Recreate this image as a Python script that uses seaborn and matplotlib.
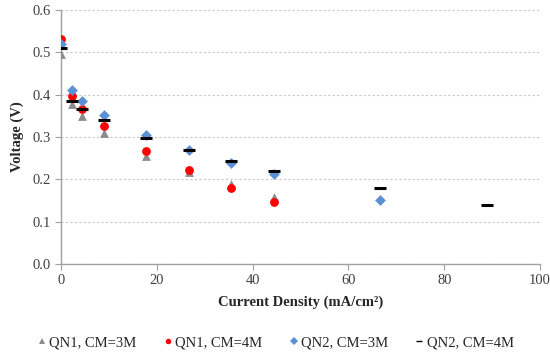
import pandas as pd
import seaborn as sns
import matplotlib
matplotlib.use('Agg')
import matplotlib.pyplot as plt
from matplotlib.lines import Line2D

# Dados
corrente = [0, 2.22, 4.44, 8.89, 17.78, 26.67, 35.56, 44.44, 66.67, 88.89]

qn1_3m = [0.496, 0.378, 0.350, 0.309, 0.255, 0.216, 0.188, 0.157]
qn1_4m = [0.532, 0.397, 0.366, 0.325, 0.267, 0.221, 0.179, 0.145]
qn2_3m = [0.520, 0.411, 0.384, 0.352, 0.305, 0.268, 0.239, 0.212, 0.152]
qn2_4m = [0.510, 0.386, 0.366, 0.339, 0.298, 0.268, 0.244, 0.220, 0.179, 0.139]

series = [
    ('QN1, CM=3M', qn1_3m, '^', '#8c8c8c'),
    ('QN1, CM=4M', qn1_4m, 'o', '#ff0000'),
    ('QN2, CM=3M', qn2_3m, 'D', '#5b8fd6'),
    ('QN2, CM=4M', qn2_4m, '_', '#000000'),
]

sns.set_style('white')
plt.rcParams['font.family'] = ['Liberation Serif', 'DejaVu Serif']

fig, ax = plt.subplots(figsize=(5.5, 3.57), dpi=100)
fig.subplots_adjust(left=0.111, right=0.982, top=0.972, bottom=0.261)

handles = []
for nome, valores, marcador, cor in series:
    df = pd.DataFrame({'x': corrente[:len(valores)], 'y': valores})
    if marcador == '_':
        sns.scatterplot(data=df, x='x', y='y', ax=ax, marker='_', color=cor,
                        s=80, linewidth=2.2, zorder=3)
        handles.append(Line2D([], [], linestyle='none', marker='_', color=cor,
                              markersize=5, markeredgewidth=1.0, label=nome))
    else:
        tam = 30 if marcador == 'D' else 40
        sns.scatterplot(data=df, x='x', y='y', ax=ax, marker=marcador, color=cor,
                        s=tam, linewidth=0, zorder=3)
        handles.append(Line2D([], [], linestyle='none', marker=marcador, color=cor,
                              markersize=4, markeredgewidth=0, label=nome))

ax.set_xlim(0, 100)
ax.set_ylim(0, 0.6)
ax.set_xticks(range(0, 101, 20))
ax.set_yticks([0, 0.1, 0.2, 0.3, 0.4, 0.5, 0.6])
ax.set_yticklabels([f'{v:.1f}' for v in ax.get_yticks()])
ax.tick_params(axis='both', labelsize=10.5, colors='#404040', length=4,
               direction='out', left=True, bottom=True, color='#a0a0a0')
ax.yaxis.grid(True, linestyle=(0, (2, 2)), color='#c8c8c8', linewidth=0.8)
ax.set_axisbelow(True)

for lado in ['top', 'right']:
    ax.spines[lado].set_visible(False)
for lado in ['left', 'bottom']:
    ax.spines[lado].set_color('#a0a0a0')
    ax.spines[lado].set_linewidth(1)

ax.set_xlabel('Current Density (mA/cm²)', fontsize=10.5, fontweight='bold', labelpad=6)
ax.set_ylabel('Voltage (V)', fontsize=10.5, fontweight='bold', labelpad=6)

fig.legend(handles=handles, loc='lower center', ncol=4, frameon=False,
           bbox_to_anchor=(0.5, -0.015), fontsize=10.5, handletextpad=0.1,
           columnspacing=1.75, handlelength=0.8)

plt.savefig('out.png', dpi=100)
